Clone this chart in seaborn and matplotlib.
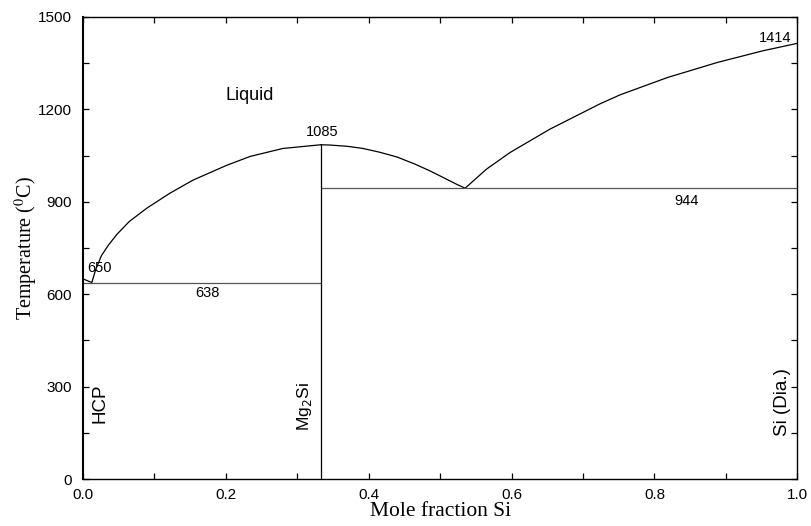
import matplotlib
matplotlib.use("Agg")
import matplotlib.pyplot as plt
from matplotlib.ticker import MultipleLocator, FormatStrFormatter
import seaborn as sns
import pandas as pd

sns.set_theme(style="ticks")
plt.rcParams["font.family"] = ["Liberation Sans", "DejaVu Sans"]
plt.rcParams["mathtext.fontset"] = "stix"

# Liquidus, Mg-rich side up to the Mg2Si congruent melting point
liq_mg_x = [0.0, 0.0126, 0.018, 0.026, 0.036, 0.048, 0.065, 0.09, 0.122, 0.154,
            0.20, 0.234, 0.28, 0.3333]
liq_mg_t = [650, 638, 680, 725, 760, 795, 836, 880, 928, 970,
            1017, 1047, 1073, 1085]

# Liquidus, Mg2Si down to the Mg2Si-Si eutectic
liq_mid_x = [0.3333, 0.346, 0.37, 0.392, 0.415, 0.44, 0.465, 0.486, 0.505, 0.522, 0.535]
liq_mid_t = [1085, 1084, 1080, 1073, 1061, 1045, 1022, 1000, 978, 958, 944]

# Liquidus, eutectic up to pure Si
liq_si_x = [0.535, 0.565, 0.598, 0.654, 0.724, 0.752, 0.818, 0.888, 0.952, 1.0]
liq_si_t = [944, 1006, 1060, 1136, 1218, 1247, 1303, 1352, 1390, 1414]

# Invariant lines
eut1_x = [0.0, 0.3333]
eut1_t = [638, 638]
eut2_x = [0.3333, 1.0]
eut2_t = [944, 944]
comp_x = [0.3333, 0.3333]
comp_t = [0, 1085]

liquidus = pd.DataFrame({
    "x": liq_mg_x + liq_mid_x + liq_si_x,
    "T": liq_mg_t + liq_mid_t + liq_si_t,
    "branch": ["mg"] * len(liq_mg_x) + ["mid"] * len(liq_mid_x) + ["si"] * len(liq_si_x),
})
invariant = pd.DataFrame({
    "x": eut1_x + eut2_x,
    "T": eut1_t + eut2_t,
    "line": ["e1"] * 2 + ["e2"] * 2,
})
compound = pd.DataFrame({"x": comp_x, "T": comp_t})

fig = plt.figure(figsize=(8.12, 5.26), dpi=100)
ax = fig.add_axes([0.102, 0.089, 0.880, 0.879])

sns.lineplot(data=liquidus, x="x", y="T", units="branch", estimator=None, sort=False,
             color="black", linewidth=0.9, ax=ax)
sns.lineplot(data=invariant, x="x", y="T", units="line", estimator=None, sort=False,
             color="#555555", linewidth=0.9, ax=ax)
sns.lineplot(data=compound, x="x", y="T", estimator=None, sort=False,
             color="black", linewidth=0.9, ax=ax)

ax.set_xlim(0, 1.0)
ax.set_ylim(0, 1500)
ax.xaxis.set_major_locator(MultipleLocator(0.2))
ax.xaxis.set_minor_locator(MultipleLocator(0.1))
ax.yaxis.set_major_locator(MultipleLocator(300))
ax.yaxis.set_minor_locator(MultipleLocator(150))
ax.xaxis.set_major_formatter(FormatStrFormatter("%.1f"))
ax.tick_params(which="both", direction="in", top=True, right=True, length=4,
               width=0.9, color="black", labelsize=11, labelcolor="black")
ax.tick_params(axis="y", pad=8)
ax.tick_params(axis="x", pad=6)
for s in ax.spines.values():
    s.set_color("black")
    s.set_linewidth(1.0)
ax.spines["left"].set_linewidth(1.5)

serif = ["Liberation Serif", "DejaVu Serif"]
ax.set_xlabel("Mole fraction Si", fontsize=15.5, family=serif, color="black", labelpad=0)
ax.set_ylabel(r"Temperature ($^0$C)", fontsize=14.5, family=serif, color="black", labelpad=-2)

lab = dict(fontsize=10.5, color="black", ha="center", va="center")
ax.text(0.024, 685, "650", **lab)
ax.text(0.175, 604, "638", **lab)
ax.text(0.335, 1127, "1085", **lab)
ax.text(0.845, 903, "944", **lab)
ax.text(0.969, 1432, "1414", **lab)
ax.text(0.234, 1244, "Liquid", fontsize=13, color="black", ha="center", va="center")
ax.text(0.024, 247, "HCP", fontsize=13.5, color="black", ha="center", va="center", rotation=90)
ax.text(0.31, 234, r"Mg$_2$Si", fontsize=12.5, color="black", ha="center", va="center",
        rotation=90, math_fontfamily="dejavusans")
ax.text(0.979, 250, "Si (Dia.)", fontsize=13.5, color="black", ha="center", va="center",
        rotation=90)

fig.savefig("out.png", dpi=100, facecolor="white")
